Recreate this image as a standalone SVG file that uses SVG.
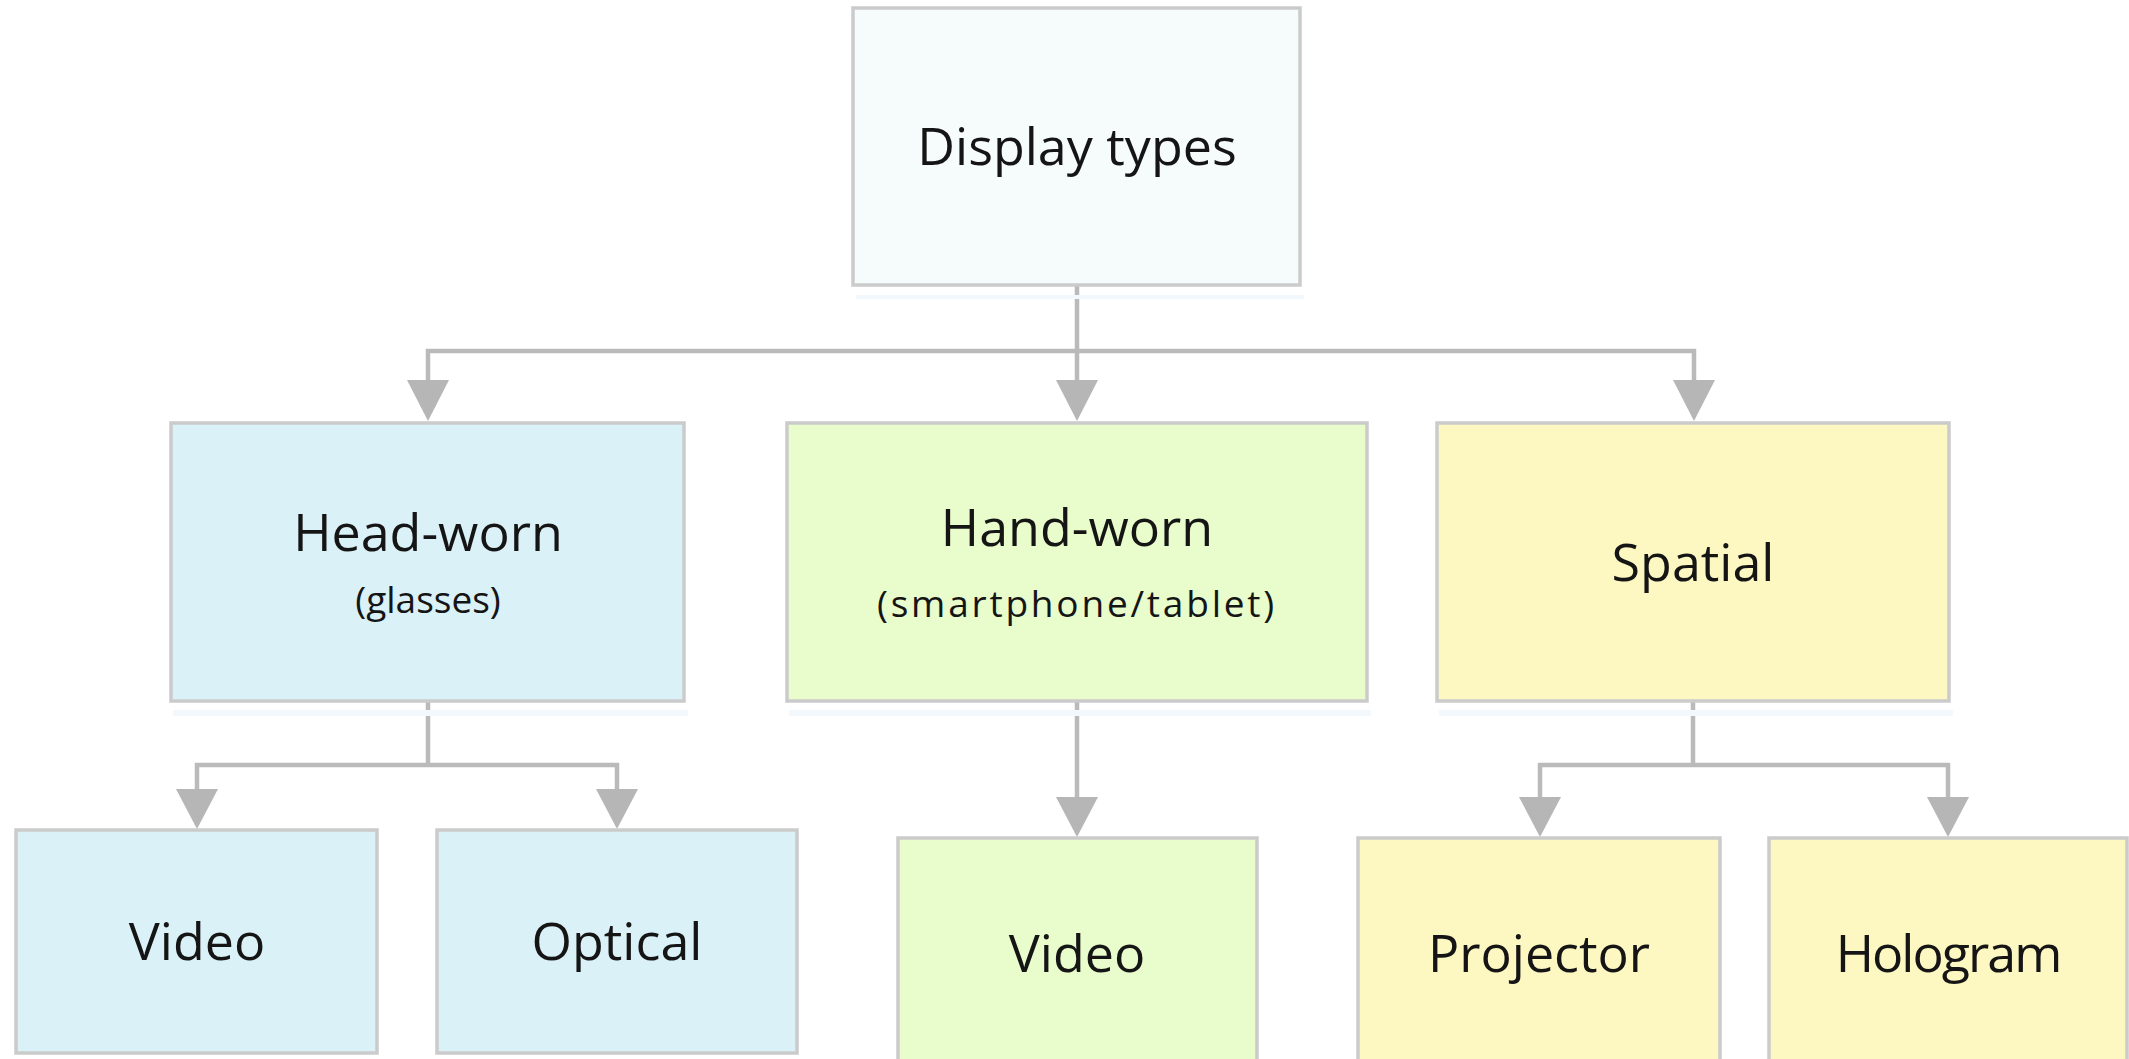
<svg xmlns="http://www.w3.org/2000/svg" width="2129" height="1059" viewBox="0 0 2129 1059">
<defs>
<style>
.box{stroke:#cbcbcb;stroke-width:3.5}
.root{fill:#f6fbfc}
.blue{fill:#daf1f7}
.green{fill:#e8fccc}
.yellow{fill:#fdf7c1}
.shadow{fill:#f2f8fb}
.lbl{font-family:"Open Sans","DejaVu Sans",sans-serif;font-size:52px;fill:#151515;text-anchor:middle}
.sub{font-family:"Open Sans","DejaVu Sans",sans-serif;font-size:37px;fill:#151515;text-anchor:middle}
.line{fill:none;stroke:#bababa;stroke-width:4.5}
.head{fill:#b6b6b6}
</style>
</defs>
<rect width="2129" height="1059" fill="#ffffff"/>
<g id="connectors">
<path class="line" d="M1077 285 V384"/>
<path class="line" d="M428 384 V351 H1694 V384"/>
<path class="line" d="M428 701 V765"/>
<path class="line" d="M197 792 V765 H617 V792"/>
<path class="line" d="M1077 701 V800"/>
<path class="line" d="M1693 701 V765"/>
<path class="line" d="M1540 800 V765 H1948 V800"/>
<polygon class="head" points="1056,380 1098,380 1077,421"/>
<polygon class="head" points="407,380 449,380 428,421"/>
<polygon class="head" points="1673,380 1715,380 1694,421"/>
<polygon class="head" points="176,789 218,789 197,829"/>
<polygon class="head" points="596,789 638,789 617,829"/>
<polygon class="head" points="1056,797 1098,797 1077,837"/>
<polygon class="head" points="1519,797 1561,797 1540,837"/>
<polygon class="head" points="1927,797 1969,797 1948,837"/>
</g>
<g id="display-types">
<rect class="shadow" x="856" y="295" width="448" height="4"/>
<rect class="box root" x="853" y="8" width="447" height="277"/>
<text class="lbl" x="1077" y="165">Display types</text>
</g>
<g id="head-worn">
<rect class="shadow" x="173" y="710" width="515" height="6"/>
<rect class="box blue" x="171" y="423" width="513" height="278"/>
<text class="lbl" x="428" y="551">Head-worn</text>
<text class="sub" x="428" y="613" font-size="36">(glasses)</text>
</g>
<g id="hand-worn">
<rect class="shadow" x="789" y="710" width="582" height="6"/>
<rect class="box green" x="787" y="423" width="580" height="278"/>
<text class="lbl" x="1077" y="546">Hand-worn</text>
<text class="sub" x="1077" y="617" font-size="40" letter-spacing="2.8">(smartphone/tablet)</text>
</g>
<g id="spatial">
<rect class="shadow" x="1439" y="710" width="514" height="6"/>
<rect class="box yellow" x="1437" y="423" width="512" height="278"/>
<text class="lbl" x="1693" y="581">Spatial</text>
</g>
<g id="video-head">
<rect class="box blue" x="16" y="830" width="361" height="223"/>
<text class="lbl" x="197" y="960">Video</text>
</g>
<g id="optical">
<rect class="box blue" x="437" y="830" width="360" height="223"/>
<text class="lbl" x="617" y="960">Optical</text>
</g>
<g id="video-hand">
<rect class="box green" x="898" y="838" width="359" height="236"/>
<text class="lbl" x="1077" y="972">Video</text>
</g>
<g id="projector">
<rect class="box yellow" x="1358" y="838" width="362" height="236"/>
<text class="lbl" x="1539" y="972">Projector</text>
</g>
<g id="hologram">
<rect class="box yellow" x="1769" y="838" width="358" height="236"/>
<text class="lbl" x="1948" y="972" letter-spacing="-2">Hologram</text>
</g>
</svg>
